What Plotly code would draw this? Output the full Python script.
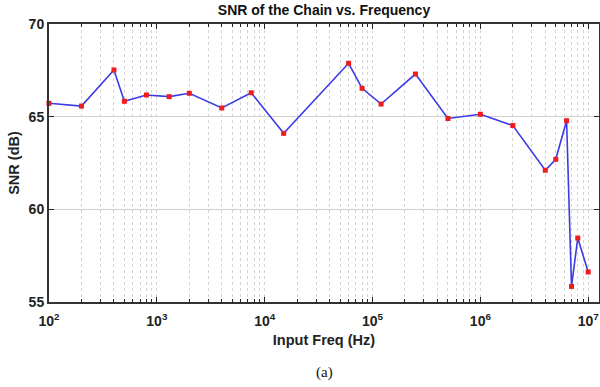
import plotly.graph_objects as go

freq_hz = [100, 200, 400, 500, 800, 1300, 2000, 4000, 7500, 15000, 60000, 80000,
           120000, 250000, 500000, 1000000, 2000000, 4000000, 5000000, 6300000,
           7000000, 8000000, 10000000]
snr_db = [65.72, 65.57, 67.52, 65.83, 66.17, 66.08, 66.26, 65.47, 66.29, 64.1,
          67.88, 66.53, 65.68, 67.3, 64.9, 65.13, 64.52, 62.11, 62.7, 64.78,
          55.84, 58.45, 56.62]

major_vals = [1e2, 1e3, 1e4, 1e5, 1e6, 1e7]
major_text = ["<b>10<sup>2</sup></b>", "<b>10<sup>3</sup></b>", "<b>10<sup>4</sup></b>",
              "<b>10<sup>5</sup></b>", "<b>10<sup>6</sup></b>", "<b>10<sup>7</sup></b>"]
minor_mult = [2, 3, 4, 5, 6, 7, 8, 9]
minor_vals = [m * d for d in major_vals[:-1] for m in minor_mult]
y_ticks = [55, 60, 65, 70]
y_text = ["<b>55</b>", "<b>60</b>", "<b>65</b>", "<b>70</b>"]

font_sans = "Liberation Sans, Arial, sans-serif"

fig = go.Figure()
fig.add_trace(go.Scatter(
    x=freq_hz, y=snr_db, mode="lines+markers",
    line=dict(color="#3b3be6", width=1.6),
    marker=dict(color="#ee1c1c", size=5, symbol="square"),
    showlegend=False, cliponaxis=False,
))

fig.update_layout(
    width=600, height=387,
    margin=dict(l=48.5, r=1, t=24, b=85),
    paper_bgcolor="white", plot_bgcolor="white",
    title=dict(text="<b>SNR of the Chain vs. Frequency</b>", x=0.5, xref="paper",
               xanchor="center", y=1 - 10.5 / 387, yref="container", yanchor="middle",
               font=dict(family=font_sans, size=14, color="#111")),
    font=dict(family=font_sans, color="#111"),
)

fig.update_xaxes(
    type="log", range=[2, 7.1],
    tickvals=major_vals, ticktext=major_text,
    tickfont=dict(size=14, family=font_sans, color="#222"),
    ticks="inside", ticklen=5, tickcolor="#222", tickwidth=1.3,
    ticklabelstandoff=5,
    showline=True, linecolor="#333", linewidth=2, mirror="ticks",
    showgrid=True, gridcolor="#d2d2d2", gridwidth=1, griddash="dot",
    minor=dict(tickvals=minor_vals, ticks="inside", ticklen=3, tickcolor="#222",
               showgrid=True, gridcolor="#d2d2d2", griddash="dot", gridwidth=1),
    title=dict(text="<b>Input Freq (Hz)</b>", font=dict(size=14.5, family=font_sans, color="#222"), standoff=7),
    automargin=False, zeroline=False,
)
fig.update_yaxes(
    range=[55, 70], tickvals=y_ticks, ticktext=y_text,
    tickfont=dict(size=14, family=font_sans, color="#222"),
    ticks="inside", ticklen=5, tickcolor="#222", tickwidth=1.3,
    showline=True, linecolor="#333", linewidth=2, mirror="ticks",
    showgrid=True, gridcolor="#d0d0d0", gridwidth=1,
    title=dict(text="<b>SNR (dB)</b>", font=dict(size=14.5, family=font_sans, color="#222"), standoff=6),
    automargin=False, zeroline=False,
)

fig.add_annotation(text="(a)", xref="paper", yref="paper", x=0.5, y=0,
                   yshift=-70, yanchor="middle", showarrow=False,
                   font=dict(family="Liberation Serif, Times New Roman, serif", size=15, color="#111"))

fig.write_html("out.html", config={"displayModeBar": False},
               post_script="document.body.style.margin='0';document.body.style.overflow='hidden';")
